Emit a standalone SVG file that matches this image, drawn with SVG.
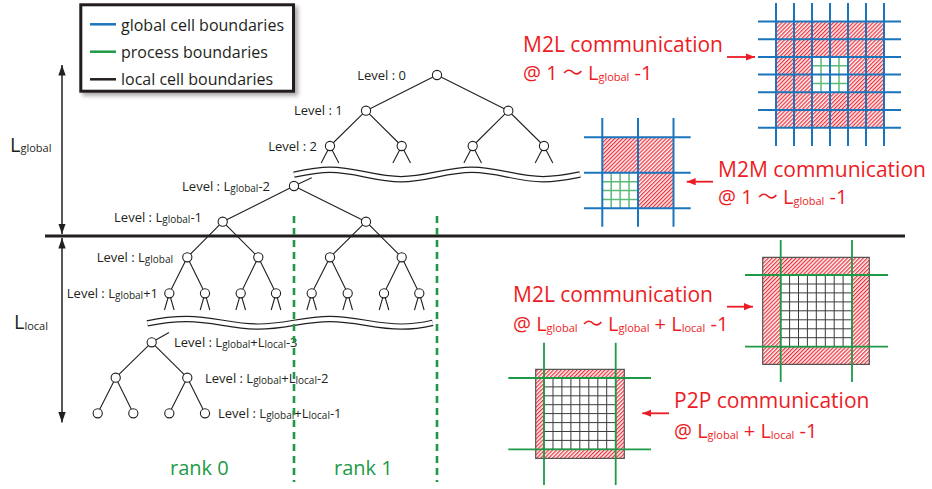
<svg xmlns="http://www.w3.org/2000/svg" width="932" height="489" viewBox="0 0 932 489">
  <defs>
    <style>
      text { font-family: "Open Sans", "Noto Sans", "Liberation Sans", sans-serif; }
      .lvl { font-size: 13px; fill: #231f20; }
      .sub { font-size: 10px; }
      .legend-text { font-size: 16px; fill: #231f20; }
      .red { fill: #ed1c24; }
      .big { font-size: 21px; }
      .mid { font-size: 20px; }
      .rsub { font-size: 11px; }
      .cjk { font-family: "Noto Sans CJK JP", "Noto Sans CJK SC", sans-serif; }
      .rank { font-size: 20px; fill: #1e9a47; }
      .edge { stroke: #231f20; stroke-width: 1.1; fill: none; }
      .node { fill: #fff; stroke: #231f20; stroke-width: 1.1; }
      .wave-outer { stroke: #231f20; stroke-width: 6.4; fill: none; }
      .wave-inner { stroke: #fff; stroke-width: 4; fill: none; }
      .rankline { stroke: #1e9a47; stroke-width: 2.6; stroke-dasharray: 7 5; fill: none; }
      .blue { stroke: #1b75bc; stroke-width: 2; fill: none; }
      .green { stroke: #1e9a47; stroke-width: 1.8; fill: none; }
      .lgreen { stroke: #5dbb7a; stroke-width: 1.5; fill: none; }
      .fine { stroke: #3a3a3a; stroke-width: 1; fill: none; }
      .hatch { fill: url(#hatch); fill-rule: evenodd; }
      .box { stroke: #555; stroke-width: 1.2; }
      .rarrow { stroke: #ed1c24; stroke-width: 1.8; fill: none; marker-end: url(#redhead); }
      .axis { stroke: #231f20; stroke-width: 1.5; fill: none; marker-start: url(#blackhead); marker-end: url(#blackhead); }
    </style>
    <pattern id="hatch" width="2.8" height="2.8" patternUnits="userSpaceOnUse" patternTransform="rotate(45)">
      <rect width="2.8" height="2.8" fill="#fff4f4"/>
      <rect width="1.2" height="2.8" fill="#ee2f3a"/>
    </pattern>
    <marker id="redhead" markerUnits="userSpaceOnUse" markerWidth="10" markerHeight="8" refX="9" refY="3.6" orient="auto">
      <path d="M0,0 L9,3.6 L0,7.2 Z" fill="#ed1c24"/>
    </marker>
    <marker id="blackhead" markerUnits="userSpaceOnUse" markerWidth="11" markerHeight="8" refX="10.5" refY="3.7" orient="auto-start-reverse">
      <path d="M0,0 L10.5,3.7 L0,7.4 Z" fill="#231f20"/>
    </marker>
    <filter id="shadow" x="-10%" y="-10%" width="130%" height="140%">
      <feDropShadow dx="3" dy="3" stdDeviation="2" flood-color="#000" flood-opacity="0.35"/>
    </filter>
  </defs>

  <!-- legend -->
  <g id="legend">
    <rect x="80.8" y="4.8" width="212.7" height="86.4" fill="#fff" stroke="#231f20" stroke-width="3" filter="url(#shadow)"/>
    <line x1="90" y1="24.3" x2="116" y2="24.3" stroke="#1b75bc" stroke-width="2.5"/>
    <line x1="90" y1="51.7" x2="116" y2="51.7" stroke="#1e9a47" stroke-width="2.5"/>
    <line x1="90" y1="79.3" x2="116" y2="79.3" stroke="#231f20" stroke-width="2.5"/>
    <text class="legend-text" x="121" y="30.5">global cell boundaries</text>
    <text class="legend-text" x="121" y="57.8">process boundaries</text>
    <text class="legend-text" x="121" y="85.3">local cell boundaries</text>
  </g>

  <!-- level ranges -->
  <g id="level-axis">
    <line x1="45" y1="236" x2="905" y2="236" stroke="#231f20" stroke-width="2.8"/>
    <path class="axis" d="M62,65 V234"/>
    <path class="axis" d="M62,238 V422.5"/>
    <text x="10" y="151.7" font-size="20" fill="#231f20">L<tspan font-size="11" dy="0.5">global</tspan></text>
    <text x="14" y="329" font-size="20" fill="#231f20">L<tspan font-size="11" dy="0.5">local</tspan></text>
  </g>

  <!-- tree edges -->
  <g id="connectors">
    <path class="edge" d="M437,75 L366,110.7 M437,75 L508.3,110.7
      M366,110.7 L330,146 M366,110.7 L401.7,146 M508.3,110.7 L472.7,146 M508.3,110.7 L544,146
      M330,146 L321.2,163 M330,146 L338.8,163 M401.7,146 L392.9,163 M401.7,146 L410.5,163
      M472.7,146 L463.9,163 M472.7,146 L481.5,163 M544,146 L535.2,163 M544,146 L552.8,163
      M294,186 L311.7,177.7 M294,186 L222.7,221.7 M294,186 L366,221.7
      M222.7,221.7 L187.3,257.3 M222.7,221.7 L258.3,257.3 M366,221.7 L330,257.3 M366,221.7 L401.7,257.3
      M187.3,257.3 L169.3,293.3 M187.3,257.3 L205,293.3 M258.3,257.3 L240.7,293.3 M258.3,257.3 L276,293.3
      M330,257.3 L311.7,293.3 M330,257.3 L347.7,293.3 M401.7,257.3 L384,293.3 M401.7,257.3 L419.3,293.3
      M169.3,293.3 L164.5,310 M169.3,293.3 L174.1,310 M205,293.3 L200.2,310 M205,293.3 L209.8,310
      M240.7,293.3 L235.9,310 M240.7,293.3 L245.5,310 M276,293.3 L271.2,310 M276,293.3 L280.8,310
      M311.7,293.3 L306.9,310 M311.7,293.3 L316.5,310 M347.7,293.3 L342.9,310 M347.7,293.3 L352.5,310
      M384,293.3 L379.2,310 M384,293.3 L388.8,310 M419.3,293.3 L414.5,310 M419.3,293.3 L424.1,310
      M151.7,342.3 L169,332.5 M151.7,342.3 L115.7,377.7 M151.7,342.3 L187.3,377.7
      M115.7,377.7 L97.7,413.3 M115.7,377.7 L133.3,413.3 M187.3,377.7 L169.3,413.3 M187.3,377.7 L205,413.3"/>
    <!-- omitted-levels breaks -->
    <path class="wave-outer" d="M294,174.6 Q317,169.8 330,169.8 C355.8,169.8 375.2,179.2 401,179.2 C426.8,179.2 446.2,169.8 472,169.8 C497.8,169.8 517.2,179.2 543,179.2 Q557.4,179.2 580,174.5"/>
    <path class="wave-inner" d="M294,174.6 Q317,169.8 330,169.8 C355.8,169.8 375.2,179.2 401,179.2 C426.8,179.2 446.2,169.8 472,169.8 C497.8,169.8 517.2,179.2 543,179.2 Q557.4,179.2 580,174.5"/>
    <path class="wave-outer" d="M147.3,323.4 Q168,319 187,319 C213,319 232.5,326.6 258.5,326.6 C284.5,326.6 304,319 330,319 C356,319 375.5,326.6 401.5,326.6 Q416,326.6 432.7,322.8"/>
    <path class="wave-inner" d="M147.3,323.4 Q168,319 187,319 C213,319 232.5,326.6 258.5,326.6 C284.5,326.6 304,319 330,319 C356,319 375.5,326.6 401.5,326.6 Q416,326.6 432.7,322.8"/>
  </g>

  <!-- tree nodes -->
  <g id="n-0-0"><circle class="node" cx="437" cy="75" r="4.6"/></g>
  <g id="n-1-0"><circle class="node" cx="366" cy="110.7" r="4.6"/></g>
  <g id="n-1-1"><circle class="node" cx="508.3" cy="110.7" r="4.6"/></g>
  <g id="n-2-0"><circle class="node" cx="330" cy="146" r="4.6"/></g>
  <g id="n-2-1"><circle class="node" cx="401.7" cy="146" r="4.6"/></g>
  <g id="n-2-2"><circle class="node" cx="472.7" cy="146" r="4.6"/></g>
  <g id="n-2-3"><circle class="node" cx="544" cy="146" r="4.6"/></g>
  <g id="n-g2-0"><circle class="node" cx="294" cy="186" r="4.6"/></g>
  <g id="n-g1-0"><circle class="node" cx="222.7" cy="221.7" r="4.6"/></g>
  <g id="n-g1-1"><circle class="node" cx="366" cy="221.7" r="4.6"/></g>
  <g id="n-g-0"><circle class="node" cx="187.3" cy="257.3" r="4.6"/></g>
  <g id="n-g-1"><circle class="node" cx="258.3" cy="257.3" r="4.6"/></g>
  <g id="n-g-2"><circle class="node" cx="330" cy="257.3" r="4.6"/></g>
  <g id="n-g-3"><circle class="node" cx="401.7" cy="257.3" r="4.6"/></g>
  <g id="n-gp1-0"><circle class="node" cx="169.3" cy="293.3" r="4.6"/></g>
  <g id="n-gp1-1"><circle class="node" cx="205" cy="293.3" r="4.6"/></g>
  <g id="n-gp1-2"><circle class="node" cx="240.7" cy="293.3" r="4.6"/></g>
  <g id="n-gp1-3"><circle class="node" cx="276" cy="293.3" r="4.6"/></g>
  <g id="n-gp1-4"><circle class="node" cx="311.7" cy="293.3" r="4.6"/></g>
  <g id="n-gp1-5"><circle class="node" cx="347.7" cy="293.3" r="4.6"/></g>
  <g id="n-gp1-6"><circle class="node" cx="384" cy="293.3" r="4.6"/></g>
  <g id="n-gp1-7"><circle class="node" cx="419.3" cy="293.3" r="4.6"/></g>
  <g id="n-l3-0"><circle class="node" cx="151.7" cy="342.3" r="4.6"/></g>
  <g id="n-l2-0"><circle class="node" cx="115.7" cy="377.7" r="4.6"/></g>
  <g id="n-l2-1"><circle class="node" cx="187.3" cy="377.7" r="4.6"/></g>
  <g id="n-l1-0"><circle class="node" cx="97.7" cy="413.3" r="4.6"/></g>
  <g id="n-l1-1"><circle class="node" cx="133.3" cy="413.3" r="4.6"/></g>
  <g id="n-l1-2"><circle class="node" cx="169.3" cy="413.3" r="4.6"/></g>
  <g id="n-l1-3"><circle class="node" cx="205" cy="413.3" r="4.6"/></g>

  <!-- level labels -->
  <g id="level-labels" class="lvl">
    <text class="lvl" x="406" y="79.5" text-anchor="end">Level : 0</text>
    <text class="lvl" x="342.7" y="115" text-anchor="end">Level : 1</text>
    <text class="lvl" x="317" y="150.7" text-anchor="end">Level : 2</text>
    <text class="lvl" x="270" y="191" text-anchor="end">Level : L<tspan class="sub" dy="0.8">global</tspan><tspan dy="-0.8">-2</tspan></text>
    <text class="lvl" x="202" y="222" text-anchor="end">Level : L<tspan class="sub" dy="0.8">global</tspan><tspan dy="-0.8">-1</tspan></text>
    <text class="lvl" x="173" y="262" text-anchor="end">Level : L<tspan class="sub" dy="0.8">global</tspan></text>
    <text class="lvl" x="158" y="298" text-anchor="end">Level : L<tspan class="sub" dy="0.8">global</tspan><tspan dy="-0.8">+1</tspan></text>
    <text class="lvl" x="174" y="347">Level : L<tspan class="sub" dy="0.8">global</tspan><tspan dy="-0.8">+L</tspan><tspan class="sub" dy="0.8">local</tspan><tspan dy="-0.8">-3</tspan></text>
    <text class="lvl" x="205" y="383">Level : L<tspan class="sub" dy="0.8">global</tspan><tspan dy="-0.8">+L</tspan><tspan class="sub" dy="0.8">local</tspan><tspan dy="-0.8">-2</tspan></text>
    <text class="lvl" x="218" y="418">Level : L<tspan class="sub" dy="0.8">global</tspan><tspan dy="-0.8">+L</tspan><tspan class="sub" dy="0.8">local</tspan><tspan dy="-0.8">-1</tspan></text>
  </g>

  <!-- process boundaries -->
  <g id="ranks">
    <path class="rankline" d="M294,216 V482 M437,216 V482"/>
    <text class="rank" x="170" y="475">rank 0</text>
    <text class="rank" x="334" y="475">rank 1</text>
  </g>

  <!-- M2L, global levels -->
  <g id="grid-m2l-global">
    <path class="hatch" d="M776,21.5 H884 V127.7 H776 Z M812,56.9 H848 V92.3 H812 Z"/>
    <path class="lgreen" d="M821,56.9 V92.3 M839,56.9 V92.3 M812,65.75 H848 M812,83.45 H848"/>
    <path class="blue" d="M776,3 V146 M794,3 V146 M812,3 V146 M830,3 V146 M848,3 V146 M866,3 V146 M884,3 V146
      M758,21.5 H901 M758,39.2 H901 M758,56.9 H901 M758,74.6 H901 M758,92.3 H901 M758,110 H901 M758,127.7 H901"/>
  </g>

  <!-- M2M, global levels -->
  <g id="grid-m2m-global">
    <path class="hatch" d="M602.3,137.3 H673.5 V172.8 H602.3 Z M638,172.8 H673.5 V208.3 H638 Z"/>
    <path class="lgreen" d="M611.2,172.8 V208.3 M620.1,172.8 V208.3 M629,172.8 V208.3 M602.3,181.7 H638 M602.3,190.6 H638 M602.3,199.4 H638"/>
    <path class="blue" d="M602.3,118 V226.7 M638,118 V226.7 M673.5,118 V226.7 M584,137.3 H690.7 M584,172.8 H690.7 M584,208.3 H690.7"/>
  </g>

  <!-- M2L, local levels -->
  <g id="grid-m2l-local">
    <path class="hatch box" d="M762.7,257.3 H869.3 V364.3 H762.7 Z M780.7,275 H852 V346.7 H780.7 Z"/>
    <path class="fine" d="M789.6,275 V346.7 M798.5,275 V346.7 M807.4,275 V346.7 M816.3,275 V346.7 M825.3,275 V346.7 M834.2,275 V346.7 M843.1,275 V346.7
      M780.7,284 H852 M780.7,292.9 H852 M780.7,301.9 H852 M780.7,310.8 H852 M780.7,319.8 H852 M780.7,328.8 H852 M780.7,337.7 H852"/>
    <path class="green" d="M780.7,240 V382 M852,240 V382 M745,275 H888 M745,346.7 H888"/>
  </g>

  <!-- P2P, finest level -->
  <g id="grid-p2p">
    <path class="hatch box" d="M535.7,369.3 H624.3 V458.3 H535.7 Z M544,378 H615.7 V449.3 H544 Z"/>
    <path class="fine" d="M553,378 V449.3 M561.9,378 V449.3 M570.9,378 V449.3 M579.8,378 V449.3 M588.8,378 V449.3 M597.8,378 V449.3 M606.7,378 V449.3
      M544,386.9 H615.7 M544,395.8 H615.7 M544,404.7 H615.7 M544,413.6 H615.7 M544,422.6 H615.7 M544,431.5 H615.7 M544,440.4 H615.7"/>
    <path class="green" d="M544,342.7 V485 M615.7,342.7 V485 M508.3,378 H651 M508.3,449.3 H651"/>
  </g>

  <!-- communication labels -->
  <g id="label-m2l-global">
    <text class="red big" x="523" y="51.7">M2L communication</text>
    <text class="red mid" x="523" y="80">@ 1 <tspan class="cjk">〜</tspan> L<tspan class="rsub" dy="1">global</tspan><tspan dy="-1"> -1</tspan></text>
    <path class="rarrow" d="M727,57 H755"/>
  </g>
  <g id="label-m2m-global">
    <text class="red big" x="718" y="176.7">M2M communication</text>
    <text class="red mid" x="718" y="204">@ 1 <tspan class="cjk">〜</tspan> L<tspan class="rsub" dy="1">global</tspan><tspan dy="-1"> -1</tspan></text>
    <path class="rarrow" d="M713,181.7 H686.7"/>
  </g>
  <g id="label-m2l-local">
    <text class="red big" x="513" y="301.7">M2L communication</text>
    <text class="red mid" x="513" y="330.7">@ L<tspan class="rsub" dy="1">global</tspan><tspan dy="-1"> </tspan><tspan class="cjk">〜</tspan> L<tspan class="rsub" dy="1">global</tspan><tspan dy="-1"> + L</tspan><tspan class="rsub" dy="1">local</tspan><tspan dy="-1"> -1</tspan></text>
    <path class="rarrow" d="M727,306.7 H753"/>
  </g>
  <g id="label-p2p">
    <text class="red big" x="674" y="408.3">P2P communication</text>
    <text class="red mid" x="674" y="438.3">@ L<tspan class="rsub" dy="1">global</tspan><tspan dy="-1"> + L</tspan><tspan class="rsub" dy="1">local</tspan><tspan dy="-1"> -1</tspan></text>
    <path class="rarrow" d="M669,413.3 H642.3"/>
  </g>
</svg>
